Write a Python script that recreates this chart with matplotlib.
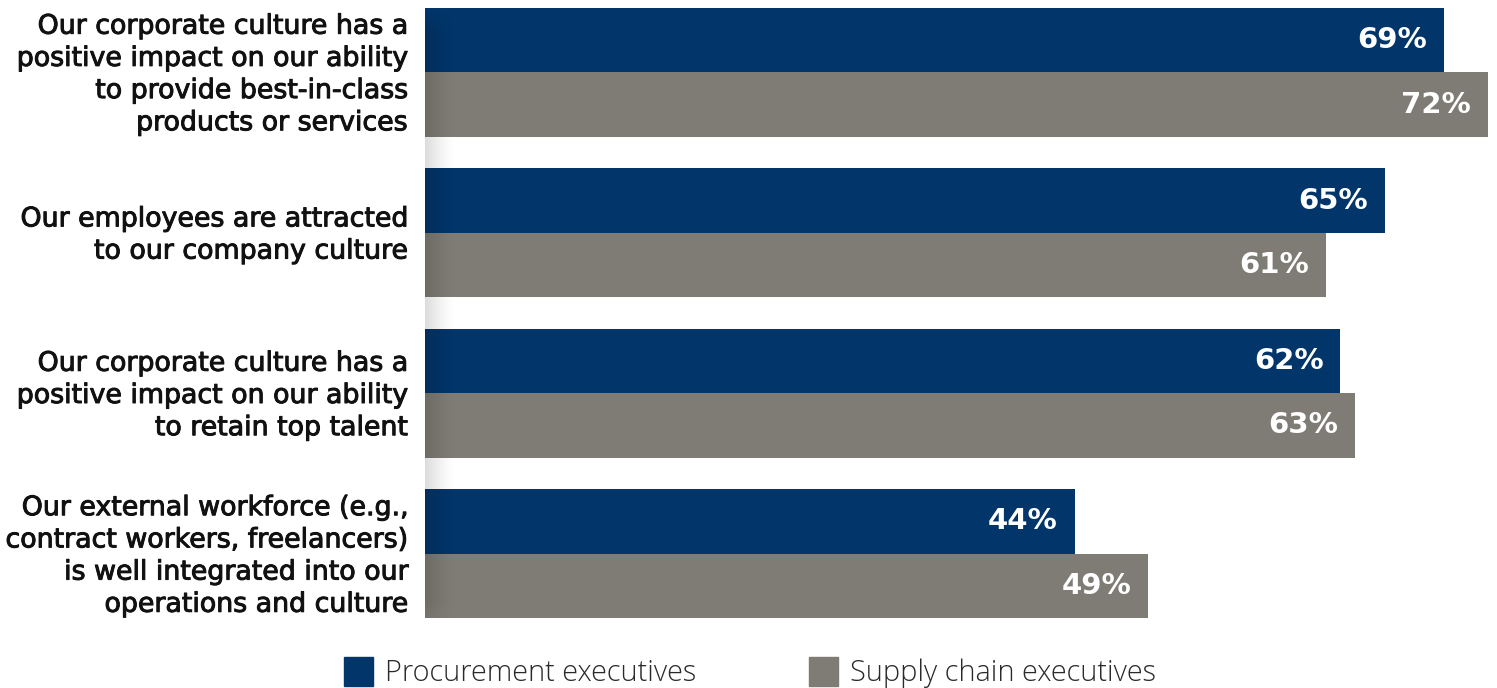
import numpy as np
import matplotlib.pyplot as plt
import matplotlib.patheffects as pe
from matplotlib.patches import Rectangle

statements = [
    "Our corporate culture has a\npositive impact on our ability\nto provide best-in-class\nproducts or services",
    "Our employees are attracted\nto our company culture",
    "Our corporate culture has a\npositive impact on our ability\nto retain top talent",
    "Our external workforce (e.g.,\ncontract workers, freelancers)\nis well integrated into our\noperations and culture",
]
procurement = [69, 65, 62, 44]
supply_chain = [72, 61, 63, 49]
series_names = ["Procurement executives", "Supply chain executives"]

navy = "#02356a"
grey = "#7f7c75"

fig = plt.figure(figsize=(14.97, 6.88), dpi=100)
W, H = 1497, 688
# axes spans x 425..1497 px, y 8..618 px
ax = fig.add_axes([425 / W, 1 - 618 / H, (W - 425) / W, 610 / H])

h = 0.402
y = np.arange(len(statements))
ax.barh(y - h / 2, procurement, height=h, color=navy, zorder=2)
ax.barh(y + h / 2, supply_chain, height=h, color=grey, zorder=2)

px_per_unit = 1063 / 72
ax.axis("off")

# value labels inside bar ends
for i in range(len(statements)):
    for v, off in ((procurement[i], -h / 2), (supply_chain[i], h / 2)):
        ax.text(v - 1.15, i + off, f"{v}%", ha="right", va="center",
                color="white", fontsize=21, fontweight="bold",
                family="DejaVu Sans", zorder=4)

# soft shadow along the left edge
grad = np.linspace(0.22, 0.0, 60) ** 1.3
vert = np.ones(200)
vert[:8] = np.linspace(0, 1, 8)
vert[-12:] = np.linspace(1, 0, 12)
rgba = np.zeros((200, 60, 4))
rgba[..., 3] = vert[:, None] * grad[None, :]
ax.imshow(rgba, extent=(0, 30 / px_per_unit, 3 + h + 0.12, -h + 0.01),
          aspect="auto", zorder=3, interpolation="bilinear")
ax.set_xlim(0, (W - 425) / px_per_unit)
ax.set_ylim(3 + h, -h)

# category labels
heavier = [pe.withStroke(linewidth=0.7, foreground="#111111")]
for i, s in enumerate(statements):
    fig.text(407 / W, 1 - (8 + 160.5 * i + 67) / H, s, ha="right", va="center",
             fontsize=19.3, family="DejaVu Sans", linespacing=1.31,
             color="#111111", path_effects=heavier)

# legend
for x0, name, c in ((344, series_names[0], navy), (809, series_names[1], grey)):
    fig.patches.append(Rectangle((x0 / W, 1 - 686 / H), 29 / W, 29 / H,
                                 transform=fig.transFigure, color=c))
    fig.text((x0 + 41) / W, 1 - 673 / H, name, ha="left", va="center",
             fontsize=20.8, fontweight="light", family=["Open Sans", "DejaVu Sans"],
             color="#2a2a2a")

fig.savefig("out.png", dpi=100)
